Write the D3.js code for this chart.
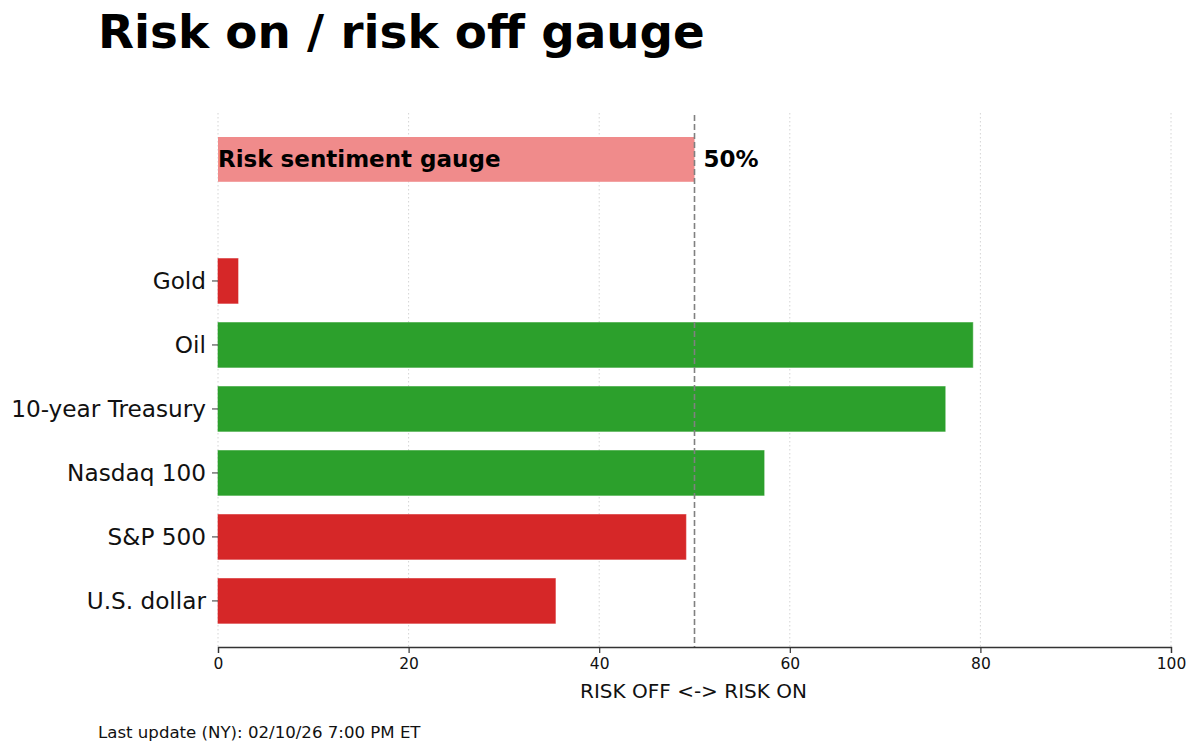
<!DOCTYPE html>
<html>
<head>
<meta charset="utf-8">
<script src="https://cdn.jsdelivr.net/npm/d3@7"></script>
<style>
  body { margin: 0; background: #fff; }
  svg { font-family: "DejaVu Sans", sans-serif; }
</style>
</head>
<body>
<svg width="1200" height="752"></svg>
<script>
// datos del gráfico
const categories = ['U.S. dollar', 'S&P 500', 'Nasdaq 100', '10-year Treasury', 'Oil', 'Gold'];
const scores = [35.4, 49.1, 57.3, 76.3, 79.2, 2.1];
const signals = ['off', 'off', 'on', 'on', 'on', 'off'];
const gaugeValue = 50;
const xTicks = [0, 20, 40, 60, 80, 100];

const svg = d3.select('svg');
const plotLeft = 218, plotRight = 1171, plotTop = 113, plotBottom = 647;
const gaugePos = 6.9;
const barH = 0.7;

const x = d3.scaleLinear().domain([0, 100]).range([plotLeft, plotRight]);
const y = d3.scaleLinear().domain([-0.72, 7.625]).range([plotBottom, plotTop]);
const colors = { on: '#2ca02c', off: '#d62728' };

// rejilla punteada
svg.append('g').selectAll('line').data(xTicks).join('line')
  .attr('x1', d => x(d)).attr('x2', d => x(d))
  .attr('y1', plotTop).attr('y2', plotBottom)
  .attr('stroke', '#cfcfcf').attr('stroke-width', 0.9)
  .attr('stroke-dasharray', '1.5,2.5');

// barra del indicador
svg.append('rect')
  .attr('x', x(0)).attr('y', y(gaugePos + barH / 2))
  .attr('width', x(gaugeValue) - x(0))
  .attr('height', y(gaugePos - barH / 2) - y(gaugePos + barH / 2))
  .attr('fill', '#f08b8b');

svg.append('text')
  .attr('x', x(0)).attr('y', y(gaugePos) + 8)
  .attr('font-size', 23).attr('font-weight', 'bold')
  .text('Risk sentiment gauge');

svg.append('text')
  .attr('x', x(gaugeValue) + 9).attr('y', y(gaugePos) + 8)
  .attr('font-size', 23).attr('font-weight', 'bold')
  .text(gaugeValue + '%');

// barras por activo
svg.append('g').selectAll('rect').data(categories).join('rect')
  .attr('x', x(0))
  .attr('y', (d, i) => y(i + barH / 2))
  .attr('width', (d, i) => x(scores[i]) - x(0))
  .attr('height', (d, i) => y(i - barH / 2) - y(i + barH / 2))
  .attr('fill', (d, i) => colors[signals[i]])
  .attr('stroke', (d, i) => colors[signals[i]])
  .attr('stroke-opacity', 0.6)
  .attr('stroke-width', 1);

// línea discontinua al 50%
svg.append('line')
  .attr('x1', x(50)).attr('x2', x(50))
  .attr('y1', plotTop + 2).attr('y2', plotBottom)
  .attr('stroke', '#808080').attr('stroke-width', 1.6)
  .attr('stroke-dasharray', '6,3');

// eje y (sin línea)
const yAxis = svg.append('g');
categories.forEach((c, i) => {
  yAxis.append('line')
    .attr('x1', plotLeft - 6).attr('x2', plotLeft)
    .attr('y1', y(i)).attr('y2', y(i))
    .attr('stroke', '#333').attr('stroke-width', 1);
  yAxis.append('text')
    .attr('x', plotLeft - 12).attr('y', y(i))
    .attr('dy', '0.35em').attr('text-anchor', 'end')
    .attr('font-size', 23.2).attr('fill', '#111')
    .text(c);
});

// eje x
const xAxis = svg.append('g')
  .attr('transform', `translate(0,${plotBottom})`)
  .call(d3.axisBottom(x).tickValues(xTicks).tickSize(6).tickPadding(5));
xAxis.select('.domain').attr('stroke', '#333').attr('stroke-width', 1.3);
xAxis.selectAll('.tick line').attr('stroke', '#333').attr('stroke-width', 1.2);
xAxis.selectAll('.tick text')
  .attr('font-size', 15.5).attr('font-family', '"DejaVu Sans", sans-serif').attr('fill', '#111');

svg.append('text')
  .attr('x', (plotLeft + plotRight) / 2 - 1).attr('y', 698)
  .attr('text-anchor', 'middle').attr('font-size', 20).attr('fill', '#111')
  .text('RISK OFF <-> RISK ON');

// título y pie
svg.append('text')
  .attr('x', 98).attr('y', 48)
  .attr('font-size', 46.8).attr('font-weight', 'bold')
  .text('Risk on / risk off gauge');

svg.append('text')
  .attr('x', 98).attr('y', 738)
  .attr('font-size', 16.6).attr('fill', '#111')
  .text('Last update (NY): 02/10/26 7:00 PM ET');
</script>
</body>
</html>
